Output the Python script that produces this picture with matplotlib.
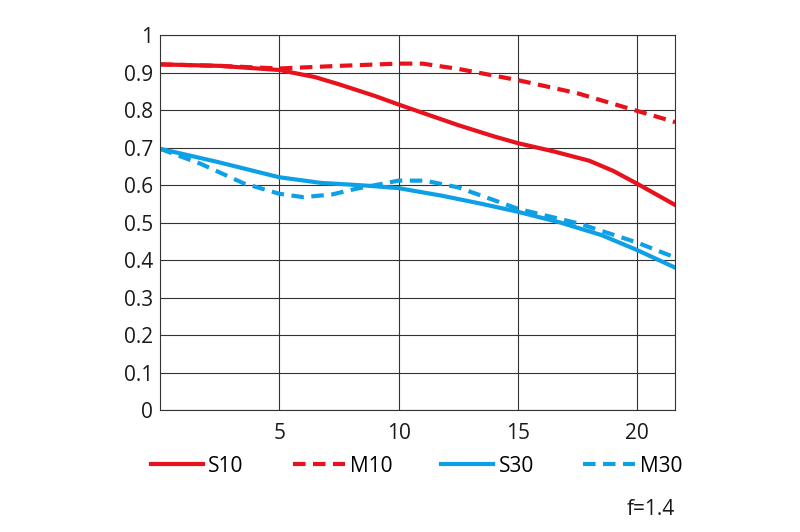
import matplotlib.pyplot as plt

plt.rcParams['font.family'] = ['Open Sans', 'DejaVu Sans']

# MTF readings (image height in mm -> contrast)
s10_x = [0, 2.5, 5, 6.5, 7.5, 9, 10, 11.5, 12.5, 14, 15, 16.5, 18, 19, 20, 21.6]
s10_y = [0.922, 0.918, 0.907, 0.888, 0.869, 0.838, 0.815, 0.782, 0.760, 0.730, 0.712, 0.690, 0.665, 0.638, 0.604, 0.547]

m10_x = [0, 2.5, 5, 7.5, 10, 11, 12.5, 15, 17.5, 20, 21.6]
m10_y = [0.922, 0.918, 0.911, 0.918, 0.924, 0.924, 0.910, 0.880, 0.845, 0.798, 0.768]

s30_x = [0, 2.4, 5, 6.75, 8.6, 10, 11.8, 13.5, 15, 16.8, 18.5, 20, 21.6]
s30_y = [0.697, 0.662, 0.621, 0.606, 0.599, 0.592, 0.572, 0.550, 0.529, 0.500, 0.467, 0.427, 0.380]

m30_x = [0, 1.7, 3.5, 5, 6, 7.2, 8.2, 10, 11.1, 12.5, 14, 15, 17.6, 20, 21.6]
m30_y = [0.697, 0.657, 0.605, 0.577, 0.568, 0.575, 0.590, 0.612, 0.612, 0.594, 0.560, 0.537, 0.497, 0.447, 0.407]

x_ticks = [5, 10, 15, 20]
y_ticks = [0, 0.1, 0.2, 0.3, 0.4, 0.5, 0.6, 0.7, 0.8, 0.9, 1]
y_labels = ['0', '0.1', '0.2', '0.3', '0.4', '0.5', '0.6', '0.7', '0.8', '0.9', '1']

red = '#e8121c'
blue = '#0ea0e6'
fs = 15

fig = plt.figure(figsize=(8, 5.32), dpi=100)
ax = fig.add_axes([0.2, 0.229, 0.644, 0.705])

lw = 3
ax.plot(s10_x, s10_y, color=red, lw=lw, label='S10')
ax.plot(m10_x, m10_y, color=red, lw=lw, dashes=(3, 1.8), label='M10')
ax.plot(s30_x, s30_y, color=blue, lw=lw, label='S30')
ax.plot(m30_x, m30_y, color=blue, lw=lw, dashes=(3, 1.8), label='M30')

ax.set_xlim(0, 21.6)
ax.set_ylim(0, 1)
ax.set_xticks(x_ticks)
ax.set_yticks(y_ticks)
ax.set_yticklabels(y_labels)
ax.tick_params(length=0, labelsize=fs, colors='#1a1a1a')
ax.tick_params(axis='x', pad=9)
ax.tick_params(axis='y', pad=5)
ax.grid(True, color='#333333', lw=0.8)
for s in ax.spines.values():
    s.set_color('#333333')
    s.set_linewidth(0.8)

fig.legend(loc='center', bbox_to_anchor=(0.521, 0.124), ncol=4, frameon=False,
           fontsize=fs, handlelength=2.5, columnspacing=2.35, handletextpad=0.25)

fig.text(0.844, 0.043, 'f=1.4', ha='right', va='center', fontsize=fs, color='#1a1a1a')

fig.savefig('out.png', dpi=100)
